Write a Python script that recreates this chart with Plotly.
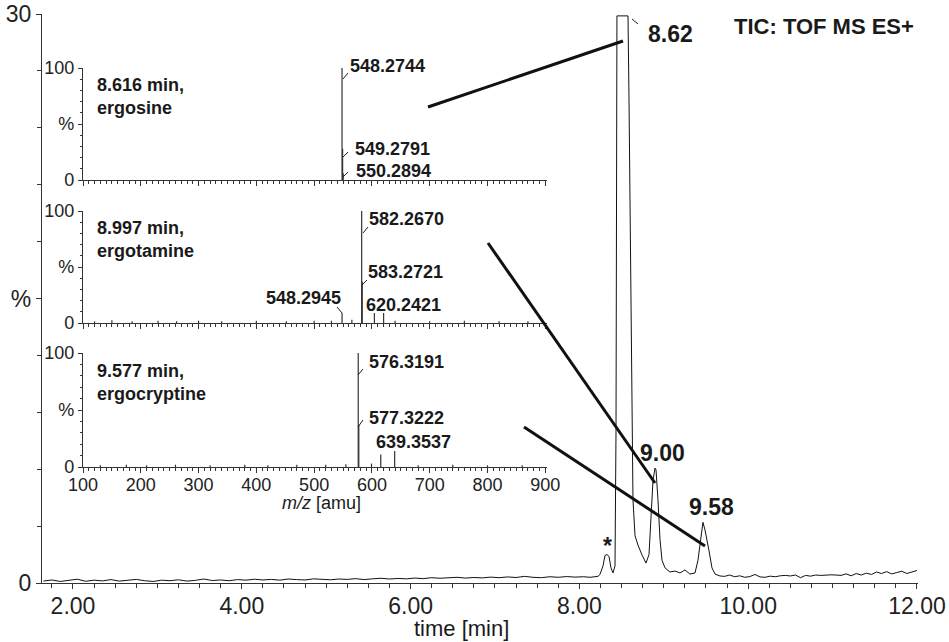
import plotly.graph_objects as go

# ---------------- data ----------------
# TIC chromatogram (time in min, intensity in %)
t_min = [1.65, 1.75, 1.85, 1.95, 2.05, 2.15, 2.25, 2.35, 2.45, 2.55, 2.65, 2.75, 2.85, 2.95,
         3.05, 3.15, 3.25, 3.35, 3.45, 3.55, 3.65, 3.75, 3.85, 3.95, 4.05, 4.15, 4.25, 4.35,
         4.45, 4.55, 4.65, 4.75, 4.85, 4.95, 5.05, 5.15, 5.25, 5.35, 5.45, 5.55, 5.65, 5.75,
         5.85, 5.95, 6.05, 6.15, 6.25, 6.35, 6.45, 6.55, 6.65, 6.75, 6.85, 6.95, 7.05, 7.15,
         7.25, 7.35, 7.45, 7.55, 7.65, 7.75, 7.85, 7.95, 8.05,
         8.126, 8.22, 8.244, 8.28, 8.303, 8.327, 8.351, 8.374, 8.398, 8.422, 8.434, 8.445,
         8.576, 8.588, 8.611, 8.635, 8.659, 8.694, 8.742, 8.789, 8.825, 8.848, 8.872, 8.896,
         8.908, 8.931, 8.955, 8.979, 9.014, 9.073, 9.133, 9.192, 9.251, 9.31, 9.37, 9.405,
         9.441, 9.464, 9.488, 9.512, 9.536, 9.571, 9.607, 9.666,
         9.72, 9.78, 9.84, 9.90, 9.96, 10.02, 10.08, 10.14, 10.20, 10.26, 10.32, 10.38,
         10.44, 10.50, 10.56, 10.62, 10.68, 10.74, 10.80, 10.86, 10.92, 10.98, 11.04, 11.10,
         11.16, 11.22, 11.28, 11.34, 11.40, 11.46, 11.52, 11.58, 11.64, 11.70, 11.76, 11.82,
         11.88, 11.94, 12.00]
tic_pct = [0.10, 0.16, 0.08, 0.14, 0.20, 0.09, 0.15, 0.11, 0.18, 0.10, 0.13, 0.19, 0.12, 0.08,
           0.15, 0.12, 0.17, 0.10, 0.14, 0.21, 0.13, 0.16, 0.12, 0.18, 0.15, 0.20, 0.16, 0.19,
           0.15, 0.21, 0.18, 0.16, 0.22, 0.19, 0.17, 0.21, 0.19, 0.23, 0.18, 0.22, 0.25, 0.21,
           0.24, 0.22, 0.26, 0.23, 0.28, 0.25, 0.27, 0.30, 0.26, 0.29, 0.27, 0.31, 0.28, 0.32,
           0.29, 0.35, 0.30, 0.28, 0.33, 0.30, 0.34, 0.31, 0.33,
           0.30, 0.35, 0.45, 0.90, 1.45, 1.50, 1.40, 0.80, 0.53, 0.90, 8.0, 29.9,
           29.9, 25.5, 14.9, 4.4, 2.5, 2.0, 1.48, 1.05, 1.5, 3.3, 5.4, 6.06,
           5.96, 4.4, 2.3, 1.2, 0.80, 0.58, 0.63, 0.53, 0.69, 0.47, 0.53, 1.2,
           2.5, 3.2, 2.8, 2.3, 1.7, 0.80, 0.47, 0.37,
           0.35, 0.42, 0.33, 0.38, 0.30, 0.34, 0.45, 0.32, 0.30, 0.36, 0.33, 0.38,
           0.40, 0.37, 0.42, 0.28, 0.40, 0.36, 0.42, 0.40, 0.42, 0.43, 0.42, 0.40,
           0.48, 0.38, 0.50, 0.42, 0.52, 0.45, 0.58, 0.50, 0.60, 0.48, 0.55, 0.62,
           0.50, 0.58, 0.66]

time_ticks = [2, 4, 6, 8, 10, 12]
time_labels = ["2.00", "4.00", "6.00", "8.00", "10.00", "12.00"]

# Mass spectra (m/z, relative intensity %)
ergosine_mz = [548.2744, 549.2791, 550.2894]
ergosine_int = [100, 28, 6]

ergotamine_mz = [120, 150, 185, 230, 262, 300, 340, 400, 452, 500, 530, 548.2945, 565.3,
                 582.2670, 583.2721, 604.3, 620.2421, 640, 700, 760, 820, 870]
ergotamine_int = [1.5, 2.5, 1.5, 2, 1.5, 2, 1.5, 2, 1.5, 2, 2, 9, 3,
                  100, 37, 9, 9, 2, 1.5, 2, 1.5, 1.5]

ergocryptine_mz = [130, 175, 210, 260, 320, 380, 420, 470, 520, 555, 576.3191, 577.3222,
                   599.3, 615.3, 639.3537, 680, 740, 800, 860]
ergocryptine_int = [1.5, 2, 1.5, 2, 1.5, 2, 1.5, 2, 2, 2.5, 100, 37,
                    3, 11, 14, 1.5, 2, 1.5, 1.5]

mz_ticks = [100, 200, 300, 400, 500, 600, 700, 800, 900]

# ---------------- layout helpers ----------------
W, H = 949, 642
L, R, T, B = 42, 31, 14, 59
PW, PH = W - L - R, H - T - B


def px(x, y):
    return (x - L) / PW, (H - B - y) / PH


def sticks(mz, inten):
    xs, ys = [], []
    for m, i in zip(mz, inten):
        xs += [m, m, None]
        ys += [0, i, None]
    return xs, ys


FONT = "Arial, Liberation Sans, Helvetica, sans-serif"
AX = "#333333"

fig = go.Figure()

fig.add_trace(go.Scatter(x=t_min, y=tic_pct, mode="lines",
                         line=dict(color="#111111", width=1), xaxis="x", yaxis="y",
                         showlegend=False, hoverinfo="skip"))

spectra = [(ergosine_mz, ergosine_int, "2"), (ergotamine_mz, ergotamine_int, "3"),
           (ergocryptine_mz, ergocryptine_int, "4")]
for mz, inten, k in spectra:
    xs, ys = sticks(mz, inten)
    fig.add_trace(go.Scatter(x=xs, y=ys, mode="lines", line=dict(color="#333333", width=1.2),
                             xaxis="x" + k, yaxis="y" + k, showlegend=False, hoverinfo="skip"))

inset_y = {"2": (68, 180), "3": (211, 323), "4": (353, 467)}
x0p, _ = px(83, 0)
x1p, _ = px(547, 0)

layout = dict(
    template="none",
    width=W, height=H, margin=dict(l=L, r=R, t=T, b=B, autoexpand=False),
    paper_bgcolor="white", plot_bgcolor="white", showlegend=False,
    font=dict(family=FONT, color="#222222"),
    xaxis=dict(range=[1.633, 12.012], showline=True, linecolor=AX, linewidth=1.3,
               automargin=False, ticklabelstandoff=-3,
               tickmode="array", tickvals=time_ticks, ticktext=time_labels,
               ticks="outside", ticklen=5, tickcolor=AX, showgrid=False, zeroline=False,
               tickfont=dict(size=23),
               minor=dict(tickmode="linear", tick0=2, dtick=0.25, ticks="outside",
                          ticklen=4, tickcolor=AX, showgrid=False)),
    yaxis=dict(range=[0, 30], showline=True, linecolor=AX, linewidth=1.3,
               automargin=False,
               tickmode="array", tickvals=[0, 15, 30], ticktext=["0", "%", "30"],
               ticks="outside", ticklen=5, tickcolor=AX, showgrid=False, zeroline=False,
               tickfont=dict(size=23),
               minor=dict(tickmode="linear", tick0=0, dtick=3, ticks="outside",
                          ticklen=4, tickcolor=AX, showgrid=False)),
)
for k, (ytop, ybot) in inset_y.items():
    _, y0p = px(0, ybot)
    _, y1p = px(0, ytop)
    layout["xaxis" + k] = dict(domain=[x0p, x1p], anchor="y" + k, range=[100, 903],
                               automargin=False, ticklabelstandoff=-4,
                               showline=True, linecolor=AX, linewidth=1.2,
                               tickmode="array", tickvals=mz_ticks,
                               ticks="outside", ticklen=5, tickcolor=AX,
                               showticklabels=(k == "4"), tickfont=dict(size=18),
                               showgrid=False, zeroline=False,
                               minor=dict(tickmode="linear", tick0=100, dtick=10,
                                          ticks="outside", ticklen=3, tickcolor=AX,
                                          showgrid=False))
    layout["yaxis" + k] = dict(domain=[y0p, y1p], anchor="x" + k, range=[0, 100],
                               automargin=False,
                               showline=True, linecolor=AX, linewidth=1.2,
                               tickmode="array", tickvals=[0, 50, 100],
                               ticktext=["0", "%", "100"], ticks="outside", ticklen=4,
                               tickcolor=AX, tickfont=dict(size=18), showgrid=False,
                               zeroline=False,
                               minor=dict(tickmode="linear", tick0=0, dtick=10,
                                          ticks="outside", ticklen=2, tickcolor=AX,
                                          showgrid=False))
fig.update_layout(**layout)

annotations = []


def text(s, x, y, size, bold=True, xanchor="center"):
    xp, yp = px(x, y)
    if bold:
        s = "<b>" + s + "</b>"
    annotations.append(dict(text=s, x=xp, y=yp, xref="paper", yref="paper",
                            xanchor=xanchor, yanchor="middle", showarrow=False,
                            align="left", font=dict(size=size, family=FONT, color="#1a1a1a")))


# inset titles
text("8.616 min,<br>ergosine", 95, 97, 18, xanchor="left")
text("8.997 min,<br>ergotamine", 95, 239, 18, xanchor="left")
text("9.577 min,<br>ergocryptine", 95, 382, 18, xanchor="left")
# peak labels
peak_labels = [("548.2744", 387, 66), ("549.2791", 392, 149), ("550.2894", 393, 171),
               ("582.2670", 406, 219), ("583.2721", 405, 272), ("620.2421", 403, 305),
               ("548.2945", 303, 298), ("576.3191", 406, 362), ("577.3222", 406, 418),
               ("639.3537", 413, 442)]
for s, x, y in peak_labels:
    text(s, x, y, 18)
# main labels
text("8.62", 670, 34, 23)
text("TIC: TOF MS ES+", 824, 27, 22)
text("9.00", 662, 453, 23)
text("9.58", 711, 507, 23)
text("*", 607, 546, 23)
text("time [min]", 461, 628, 22, bold=False)
text("<i>m/z</i> [amu]", 321, 503, 18, bold=False)
fig.update_layout(annotations=annotations)

shapes = []
leaders = [((343, 79), (348, 73)), ((343, 157), (348, 152)), ((343, 177), (348, 172)),
           ((363, 233), (368, 227)), ((362, 285), (367, 280)), ((337, 307), (342, 313)),
           ((358, 375), (363, 369)), ((358, 427), (363, 420)), ((632, 19), (638, 24))]
for (a, b) in leaders:
    xa, ya = px(*a)
    xb, yb = px(*b)
    shapes.append(dict(type="line", xref="paper", yref="paper", x0=xa, y0=ya, x1=xb, y1=yb,
                       line=dict(color="#222222", width=1)))
connectors = [((428, 107), (623, 41)), ((488, 243), (655, 483)), ((524, 427), (705, 546))]
for (a, b) in connectors:
    xa, ya = px(*a)
    xb, yb = px(*b)
    shapes.append(dict(type="line", xref="paper", yref="paper", x0=xa, y0=ya, x1=xb, y1=yb,
                       line=dict(color="#111111", width=3)))
fig.update_layout(shapes=shapes)

fig.write_html("out.html", config={"displayModeBar": False},
               post_script="document.body.style.margin='0px';"
                           "document.body.style.overflow='hidden';")
